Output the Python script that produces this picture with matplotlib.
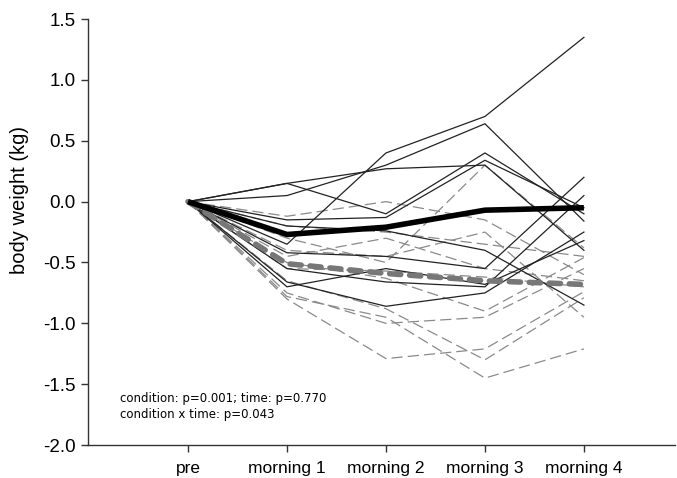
import matplotlib
matplotlib.use("Agg")
import matplotlib.pyplot as plt
import numpy as np

categories = ["pre", "morning 1", "morning 2", "morning 3", "morning 4"]

# individual subjects, condition 1 (solid black)
solid_lines = [
    [0, -0.35, 0.40, 0.70, 1.35],
    [0, 0.05, 0.30, 0.64, -0.16],
    [0, 0.15, 0.27, 0.30, -0.40],
    [0, 0.15, -0.10, 0.40, -0.10],
    [0, -0.15, -0.13, 0.34, -0.05],
    [0, -0.20, -0.24, -0.40, -0.85],
    [0, -0.42, -0.45, -0.55, 0.20],
    [0, -0.55, -0.66, -0.70, 0.05],
    [0, -0.66, -0.86, -0.75, -0.25],
    [0, -0.70, -0.55, -0.68, -0.32],
]

# individual subjects, condition 2 (gray dashed)
dashed_lines = [
    [0, -0.12, 0.00, -0.15, -0.60],
    [0, -0.30, -0.50, 0.30, -0.38],
    [0, -0.40, -0.45, -0.25, -0.95],
    [0, -0.55, -0.57, -0.62, -0.70],
    [0, -0.50, -0.63, -0.90, -0.46],
    [0, -0.75, -1.00, -0.95, -0.55],
    [0, -0.65, -0.88, -1.30, -0.79],
    [0, -0.80, -1.29, -1.21, -0.74],
    [0, -0.78, -0.95, -1.45, -1.21],
    [0, -0.20, -0.25, -0.35, -0.45],
    [0, -0.45, -0.30, -0.55, -0.65],
]

solid_mean = [0, -0.27, -0.21, -0.07, -0.05]
dashed_mean = [0, -0.51, -0.59, -0.65, -0.68]

y_ticks = [-2.0, -1.5, -1.0, -0.5, 0.0, 0.5, 1.0, 1.5]

fig = plt.figure(figsize=(6.77, 4.78), dpi=100)
ax = fig.add_axes([0.130, 0.069, 0.867, 0.891])
x = np.arange(len(categories))

for v in dashed_lines:
    ax.plot(x, v, color="#8a8a8a", lw=0.9, dashes=(9, 4))
for v in solid_lines:
    ax.plot(x, v, color="#222222", lw=0.9)

ax.plot(x, dashed_mean, color="#777777", lw=4, dashes=(2.0, 1.6),
        dash_capstyle="round", zorder=5)
ax.plot(x, solid_mean, color="black", lw=4, zorder=6, solid_capstyle="butt")

ax.set_xlim(-1.01, 4.92)
ax.set_ylim(-2.0, 1.5)
ax.set_xticks(x)
ax.set_xticklabels(categories, fontfamily="Liberation Sans", fontsize=12.5)
ax.set_yticks(y_ticks)
ax.set_yticklabels([f"{t:.1f}" for t in y_ticks], fontfamily="Liberation Sans", fontsize=13.5)
ax.set_ylabel("body weight (kg)", fontfamily="Liberation Sans", fontsize=14.5)
ax.yaxis.set_label_coords(-0.10, 0.575)

for s in ["top", "right"]:
    ax.spines[s].set_visible(False)
for s in ["left", "bottom"]:
    ax.spines[s].set_color("#333333")
    ax.spines[s].set_linewidth(1.0)
ax.tick_params(axis="both", direction="out", length=5, width=1, color="#333333")
ax.tick_params(axis="x", pad=6.5)
ax.tick_params(axis="y", pad=4)

ax.text(-0.69, -1.68, "condition: p=0.001; time: p=0.770\ncondition x time: p=0.043",
        fontfamily="DejaVu Sans", fontsize=8.5, va="center", ha="left", linespacing=1.3)

fig.savefig("out.png", dpi=100)
